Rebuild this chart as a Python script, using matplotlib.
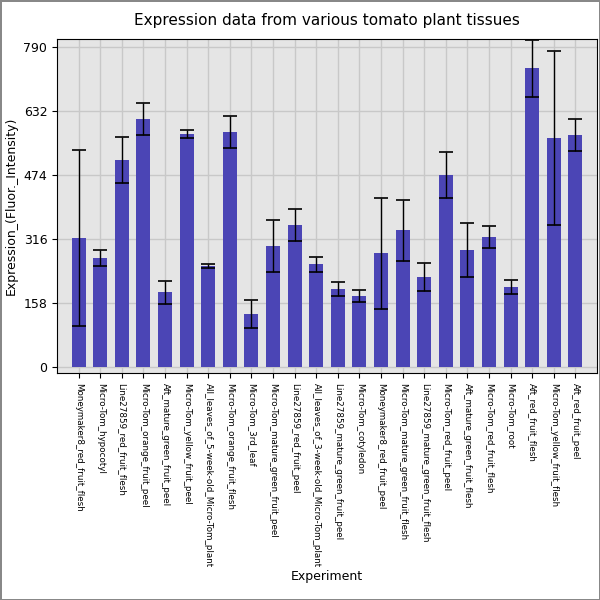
import matplotlib
matplotlib.use("Agg")
import matplotlib.pyplot as plt

tissues = ["Moneymaker8_red_fruit_flesh", "Micro-Tom_hypocotyl", "Line27859_red_fruit_flesh",
           "Micro-Tom_orange_fruit_peel", "Aft_mature_green_fruit_peel", "Micro-Tom_yellow_fruit_peel",
           "All_leaves_of_5-week-old_Micro-Tom_plant", "Micro-Tom_orange_fruit_flesh", "Micro-Tom_3rd_leaf",
           "Micro-Tom_mature_green_fruit_peel", "Line27859_red_fruit_peel",
           "All_leaves_of_3-week-old_Micro-Tom_plant", "Line27859_mature_green_fruit_peel",
           "Micro-Tom_cotyledon", "Moneymaker8_red_fruit_peel", "Micro-Tom_mature_green_fruit_flesh",
           "Line27859_mature_green_fruit_flesh", "Micro-Tom_red_fruit_peel", "Aft_mature_green_fruit_flesh",
           "Micro-Tom_red_fruit_flesh", "Micro-Tom_root", "Aft_red_fruit_flesh",
           "Micro-Tom_yellow_fruit_flesh", "Aft_red_fruit_peel"]
values = [318, 269, 511, 612, 185, 575, 249, 580, 131, 299, 351, 254,
          193, 175, 281, 338, 222, 474, 289, 321, 198, 738, 565, 573]
errors = [217, 20, 57, 40, 28, 10, 5, 40, 35, 65, 39, 18,
          17, 15, 137, 75, 35, 57, 67, 27, 18, 70, 215, 40]
yticks = [0, 158, 316, 474, 632, 790]

fig = plt.figure(figsize=(6, 6), dpi=100, edgecolor="#888888", linewidth=1)
ax = fig.add_axes([0.095, 0.378, 0.9, 0.557])
ax.set_facecolor("#e5e5e5")
ax.grid(True, color="#c8c8c8", linewidth=1)
ax.set_axisbelow(True)
x = range(len(tissues))
ax.bar(x, values, width=0.65, color="#4b45b5", yerr=errors, capsize=5,
       error_kw=dict(ecolor="black", elinewidth=1, capthick=1.2))
ax.set_xlim(-1.0, len(tissues))
ax.set_ylim(-15, 810)
ax.set_yticks(yticks)
ax.set_xticks(list(x))
ax.set_xticklabels(tissues, rotation=-90, fontsize=6.3)
ax.tick_params(axis="y", labelsize=9)
ax.set_ylabel("Expression_(Fluor._Intensity)", fontsize=9)
ax.set_xlabel("Experiment", fontsize=9, labelpad=2)
ax.set_title("Expression data from various tomato plant tissues", fontsize=11, pad=10)
fig.savefig("out.png", edgecolor=fig.get_edgecolor())
